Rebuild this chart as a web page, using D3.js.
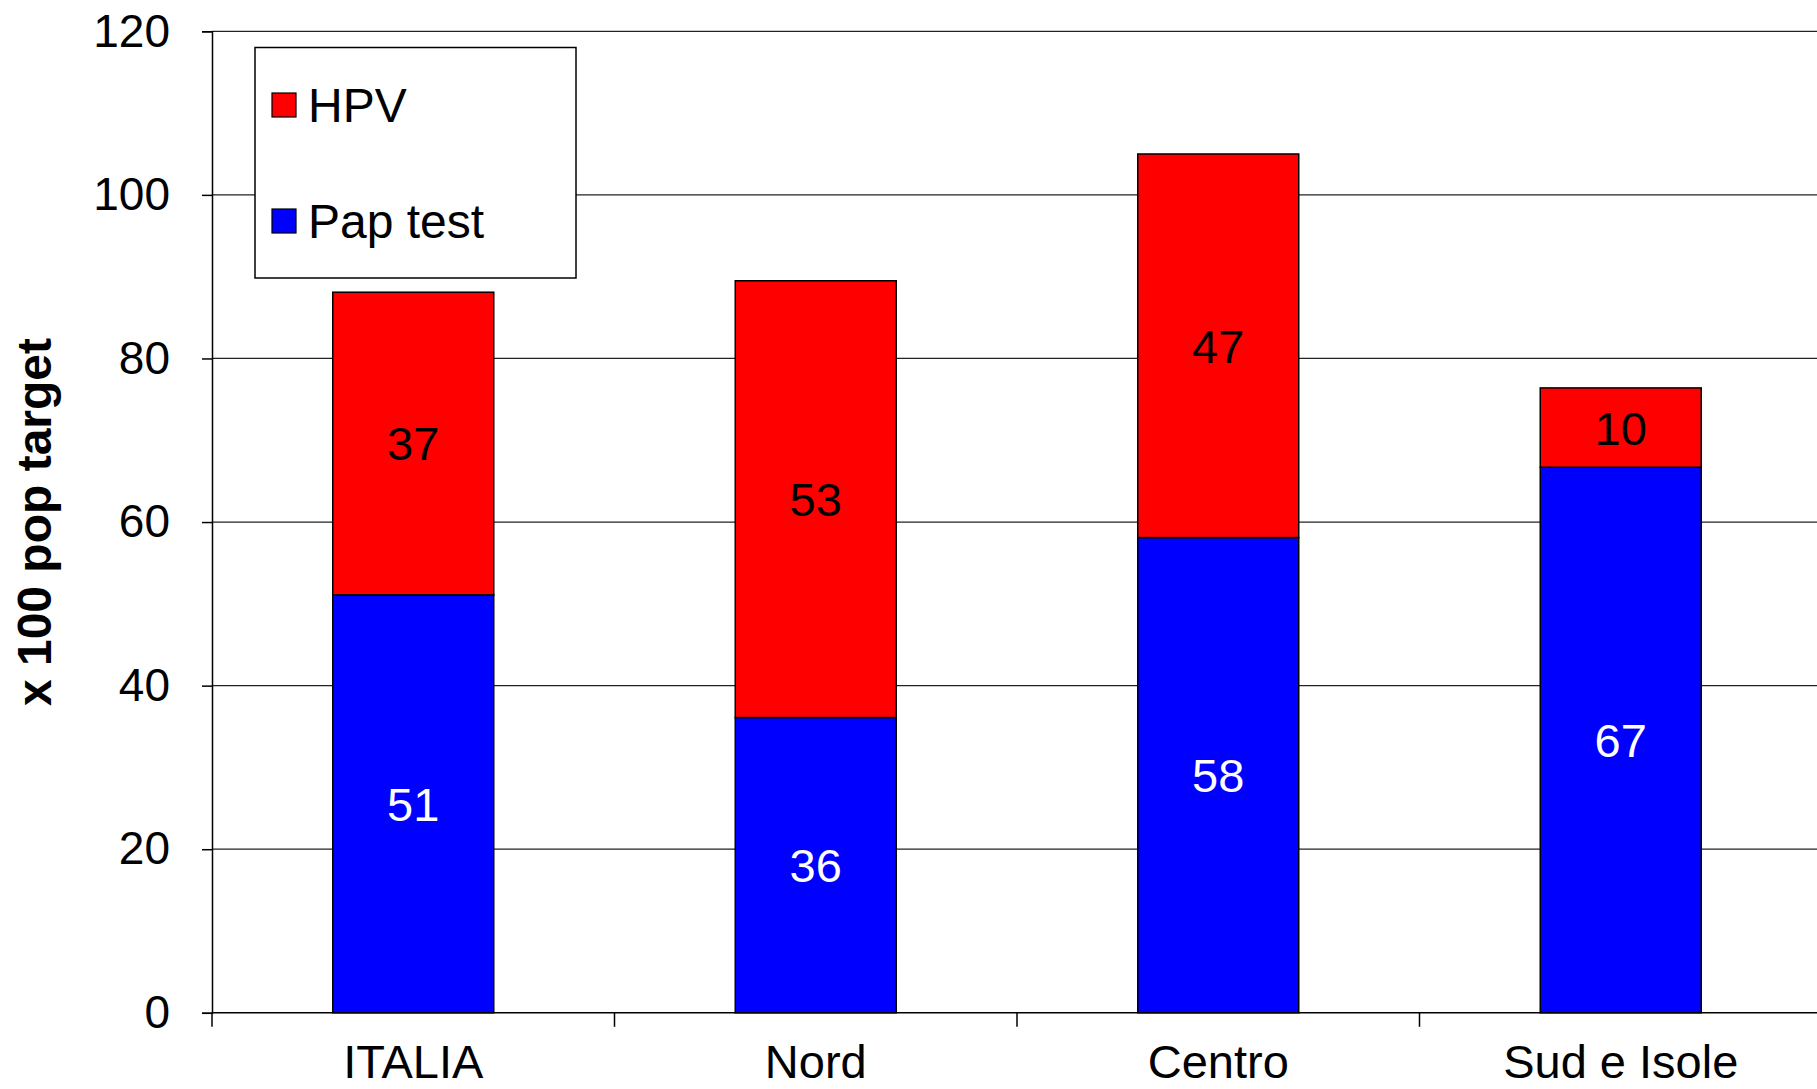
<!DOCTYPE html>
<html>
<head>
<meta charset="utf-8">
<script src="https://cdn.jsdelivr.net/npm/d3@7"></script>
<style>
  body { margin: 0; background: #fff; }
  svg { display: block; font-family: "Liberation Sans", Arial, sans-serif; }
</style>
</head>
<body>
<svg id="chart" width="1817" height="1089"></svg>
<script>
// data
var regions = ["ITALIA", "Nord", "Centro", "Sud e Isole"];
var papTest = [51.1, 36.1, 58.1, 66.7];
var hpv = [37.0, 53.4, 46.9, 9.7];
var yTicks = [0, 20, 40, 60, 80, 100, 120];
var seriesNames = ["HPV", "Pap test"];
var seriesColors = ["#ff0000", "#0000ff"];

var svg = d3.select("#chart");
var margin = {top: 31.3, left: 212, bottom: 1012.8, right: 1822};

var x = d3.scaleBand()
	.domain(regions)
	.range([margin.left, margin.right])
	.paddingInner(0.6)
	.paddingOuter(0.3);

var y = d3.scaleLinear()
	.domain([0, 120])
	.range([margin.bottom, margin.top]);

var rows = regions.map((r, i) => ({region: r, pap: papTest[i], hpv: hpv[i]}));
var stack = d3.stack().keys(["pap", "hpv"])(rows);

// gridlines
svg.append("g")
	.selectAll("line")
	.data(yTicks.filter(d => d > 0))
	.enter().append("line")
	.attr("x1", margin.left)
	.attr("x2", 1817)
	.attr("y1", d => y(d))
	.attr("y2", d => y(d))
	.attr("stroke", "#222")
	.attr("stroke-width", 1.3);

// y axis
var yAxis = svg.append("g")
	.attr("transform", "translate(" + margin.left + ",0)")
	.call(d3.axisLeft(y).tickValues(yTicks).tickSize(10).tickPadding(32));
yAxis.select(".domain").attr("stroke", "#000").attr("stroke-width", 1.5);
yAxis.selectAll(".tick line").attr("stroke", "#000").attr("stroke-width", 1.5);
yAxis.selectAll(".tick text")
	.attr("font-size", 46)
	.attr("font-family", "Liberation Sans, Arial, sans-serif")
	.attr("fill", "#000");

// bars
var colorOf = {pap: "#0000ff", hpv: "#ff0000"};
var textOf = {pap: "#fff", hpv: "#000"};

stack.forEach(layer => {
	var g = svg.append("g");
	g.selectAll("rect")
		.data(layer)
		.enter().append("rect")
		.attr("x", d => x(d.data.region))
		.attr("width", x.bandwidth())
		.attr("y", d => y(d[1]))
		.attr("height", d => y(d[0]) - y(d[1]))
		.attr("fill", colorOf[layer.key])
		.attr("stroke", "#000")
		.attr("stroke-width", 1.5);

	g.selectAll("text")
		.data(layer)
		.enter().append("text")
		.attr("x", d => x(d.data.region) + x.bandwidth() / 2)
		.attr("y", d => (y(d[0]) + y(d[1])) / 2)
		.attr("dy", "0.36em")
		.attr("text-anchor", "middle")
		.attr("font-size", 47)
		.attr("fill", textOf[layer.key])
		.text(d => d3.format(".0f")(d.data[layer.key]));
});

// x axis
svg.append("line")
	.attr("x1", margin.left)
	.attr("x2", 1817)
	.attr("y1", margin.bottom)
	.attr("y2", margin.bottom)
	.attr("stroke", "#000")
	.attr("stroke-width", 1.5);

svg.append("g")
	.selectAll("line")
	.data(regions)
	.enter().append("line")
	.attr("x1", d => x(d) - x.step() * 0.3)
	.attr("x2", d => x(d) - x.step() * 0.3)
	.attr("y1", margin.bottom)
	.attr("y2", margin.bottom + 14)
	.attr("stroke", "#000")
	.attr("stroke-width", 1.5);

svg.append("g")
	.selectAll("text")
	.data(regions)
	.enter().append("text")
	.attr("x", d => x(d) + x.bandwidth() / 2)
	.attr("y", 1078)
	.attr("text-anchor", "middle")
	.attr("font-size", 47)
	.text(d => d);

// y axis title
svg.append("text")
	.attr("transform", "translate(51," + ((margin.top + margin.bottom) / 2) + ") rotate(-90)")
	.attr("text-anchor", "middle")
	.attr("font-size", 48)
	.attr("font-weight", "bold")
	.text("x 100 pop target");

// legend
var legend = svg.append("g");
legend.append("rect")
	.attr("x", 255)
	.attr("y", 47.5)
	.attr("width", 321)
	.attr("height", 230.5)
	.attr("fill", "#fff")
	.attr("stroke", "#000")
	.attr("stroke-width", 1.5);

var item = legend.selectAll("g")
	.data(seriesNames)
	.enter().append("g")
	.attr("transform", (d, i) => "translate(272," + (93 + i * 116) + ")");

item.append("rect")
	.attr("width", 24)
	.attr("height", 24)
	.attr("fill", (d, i) => seriesColors[i])
	.attr("stroke", "#000")
	.attr("stroke-width", 1.2);

item.append("text")
	.attr("x", 36)
	.attr("y", 29)
	.attr("font-size", 48)
	.text(d => d);
</script>
</body>
</html>
